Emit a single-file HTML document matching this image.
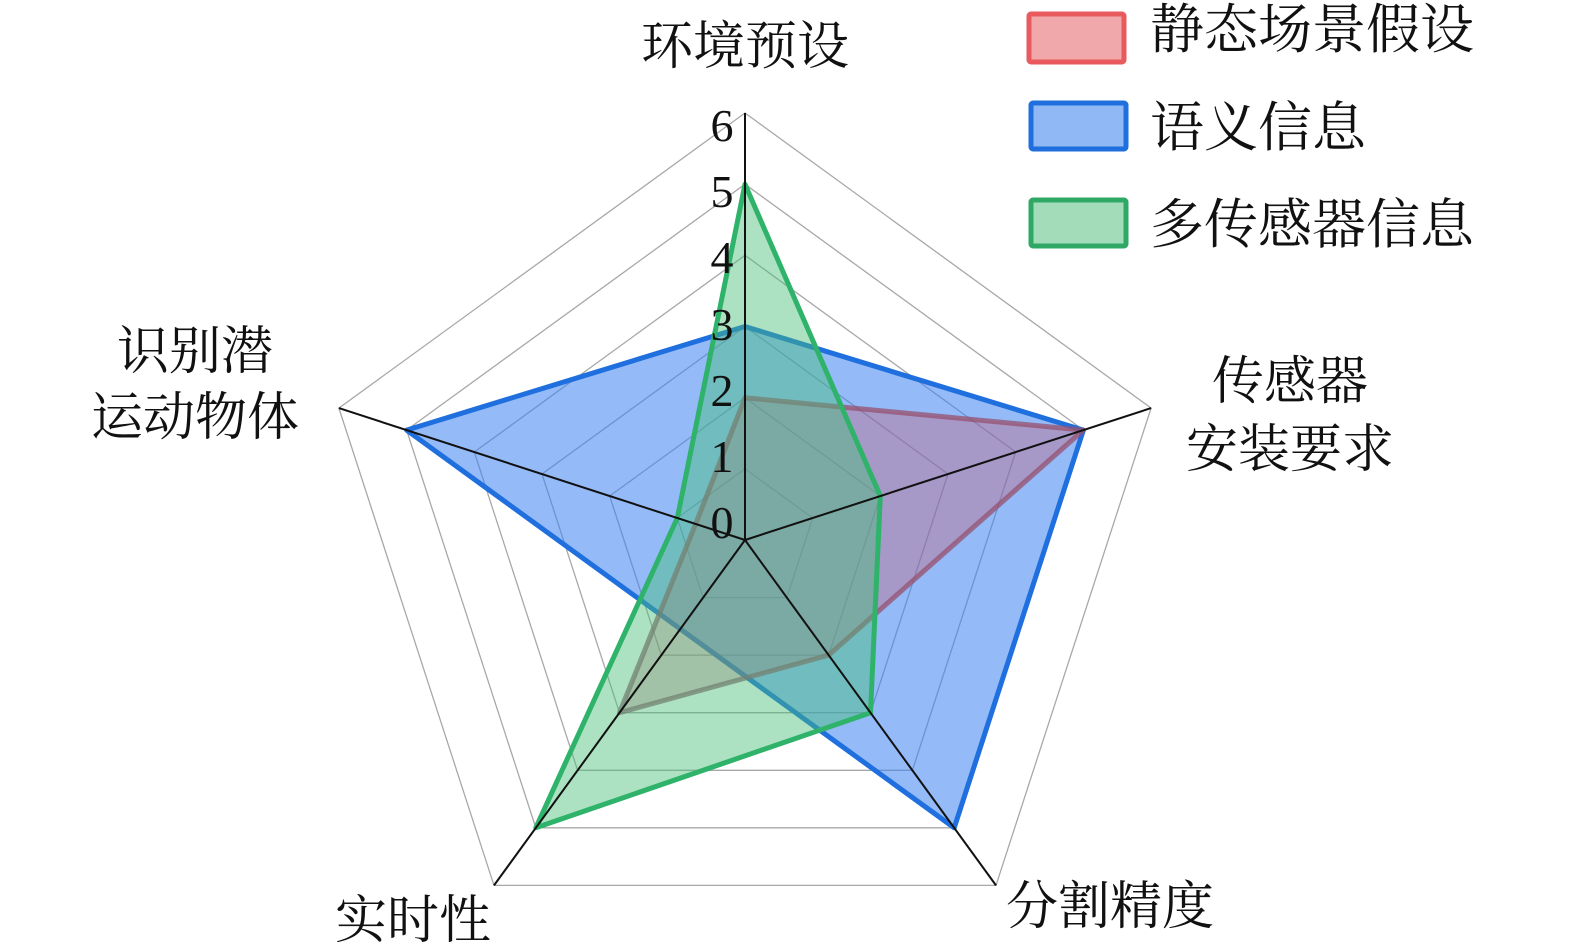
<!DOCTYPE html>
<html><head><meta charset="utf-8"><style>
html,body{margin:0;padding:0;background:#fff;width:1575px;height:952px;overflow:hidden}
text{font-family:"Liberation Serif","Noto Serif CJK SC","Noto Sans CJK SC",serif;fill:#111}
</style></head><body>
<svg width="1575" height="952" viewBox="0 0 1575 952" xmlns="http://www.w3.org/2000/svg">
<g fill="none" stroke="#a8a8a8" stroke-width="1.3">
<polygon points="745,468.8 812.7,518 786.9,597.6 703.1,597.6 677.3,518"/>
<polygon points="745,397.7 880.3,496 828.7,655.1 661.3,655.1 609.7,496"/>
<polygon points="745,326.5 948,474 870.5,712.7 619.5,712.7 542,474"/>
<polygon points="745,255.3 1015.7,452 912.4,770.3 577.6,770.3 474.3,452"/>
<polygon points="745,184.2 1083.4,430.1 954.2,827.8 535.8,827.8 406.6,430.1"/>
<polygon points="745,113 1151.1,408.1 996,885.4 494,885.4 338.9,408.1"/>
</g>
<polygon points="745,326.5 1083.4,430.1 954.2,827.8 680.3,629 406.6,430.1" fill="rgba(60,130,240,0.55)" stroke="#1f6fde" stroke-width="5" stroke-linejoin="round"/>
<polygon points="745,397.7 1083.4,430.1 828.7,655.1 619.5,712.7 695.6,524" fill="rgba(200,90,110,0.35)" stroke="rgba(150,80,110,0.75)" stroke-width="5" stroke-linejoin="round"/>
<polygon points="745,184.2 880.3,496 870.5,712.7 535.8,827.8 677.3,518" fill="rgba(70,190,120,0.45)" stroke="#2fb36a" stroke-width="5" stroke-linejoin="round"/>
<g stroke="#111" stroke-width="2">
<line x1="745" y1="540" x2="745" y2="113"/>
<line x1="745" y1="540" x2="1151.1" y2="408.1"/>
<line x1="745" y1="540" x2="996" y2="885.4"/>
<line x1="745" y1="540" x2="494" y2="885.4"/>
<line x1="745" y1="540" x2="338.9" y2="408.1"/>
</g>
<g font-size="46" text-anchor="middle">
<text x="722" y="538">0</text>
<text x="722" y="472">1</text>
<text x="722" y="406">2</text>
<text x="722" y="340">3</text>
<text x="722" y="273">4</text>
<text x="722" y="207">5</text>
<text x="722" y="141">6</text>
</g>
<g font-size="52" text-anchor="middle">
<text x="745" y="64">环境预设</text>
<text x="195" y="369">识别潜</text>
<text x="195" y="435">运动物体</text>
<text x="1290" y="399">传感器</text>
<text x="1290" y="467">安装要求</text>
<text x="413" y="938">实时性</text>
<text x="1110" y="924">分割精度</text>
</g>
<rect x="1029" y="14" width="95" height="48" fill="#f0a8ab" stroke="#e85a5e" stroke-width="5" rx="2"/>
<rect x="1031" y="103" width="95" height="46" fill="#8fb8f4" stroke="#1f6fde" stroke-width="5" rx="2"/>
<rect x="1031" y="200" width="95" height="46" fill="#a3dcb9" stroke="#2fa866" stroke-width="5" rx="2"/>
<g font-size="54">
<text x="1150" y="48">静态场景假设</text>
<text x="1150" y="146">语义信息</text>
<text x="1150" y="243">多传感器信息</text>
</g>
</svg>
</body></html>
